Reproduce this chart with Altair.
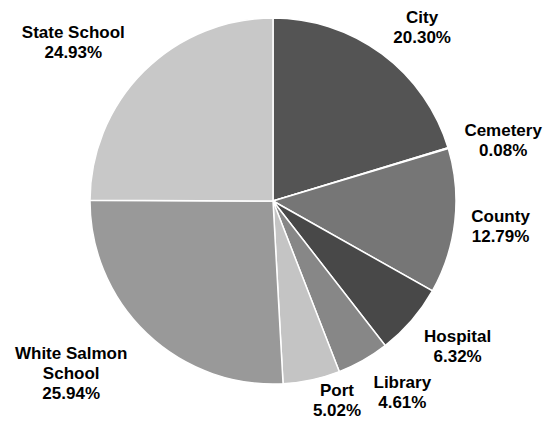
import altair as alt
import pandas as pd

categories = ["City", "Cemetery", "County", "Hospital", "Library", "Port",
              "White Salmon School", "State School"]
label_names = ["City", "Cemetery", "County", "Hospital", "Library", "Port",
               "White Salmon\nSchool", "State School"]
shares = [20.30, 0.08, 12.79, 6.32, 4.61, 5.02, 25.94, 24.93]
colors = ["#545454", "#a0a0a0", "#767676", "#484848", "#878787", "#c4c4c4",
          "#999999", "#c8c8c8"]
# manual label nudges (dx, dy) in pixels, like hand-placed data labels
label_nudge = [(11, 3), (8, -3), (-3, -10), (9, -16), (15, -20), (15, -37),
               (-42, -15), (-36, -4)]

df = pd.DataFrame({
    "category": categories,
    "share": shares,
    "idx": list(range(len(categories))),
    "label": [f"{n}\n{s:.2f}%" for n, s in zip(label_names, shares)],
})

CX, CY = 265, 193

pie = alt.Chart(df).mark_arc(outerRadius=183, stroke="white", strokeWidth=1.5).encode(
    theta=alt.Theta("share:Q", stack=True),
    order=alt.Order("idx:Q"),
    x=alt.value(CX),
    y=alt.value(CY),
    color=alt.Color("category:N", scale=alt.Scale(domain=categories, range=colors), legend=None),
)

layers = [pie]
for cat, (ndx, ndy) in zip(categories, label_nudge):
    layers.append(
        alt.Chart(df).transform_stack(
            stack="share", groupby=[], as_=["s0", "s1"],
            sort=[alt.SortField("idx", order="ascending")]
        ).transform_calculate(
            mid="(datum.s0 + datum.s1) / 2"
        ).transform_filter(alt.datum.category == cat).mark_text(
            radius=232, dx=ndx, dy=ndy, font="Liberation Sans", fontWeight="bold",
            fontSize=17, lineHeight=20, lineBreak="\n", align="center",
            baseline="middle", color="black"
        ).encode(
            theta=alt.Theta("mid:Q", scale=alt.Scale(domain=[0, sum(shares)])),
            x=alt.value(CX), y=alt.value(CY),
            text="label:N",
        )
    )

chart = alt.layer(*layers).resolve_scale(theta="independent").properties(
    width=535, height=411, autosize="none", padding=0
).configure_view(stroke=None)

chart.save("out.html", embed_options={"renderer": "svg", "actions": False})
